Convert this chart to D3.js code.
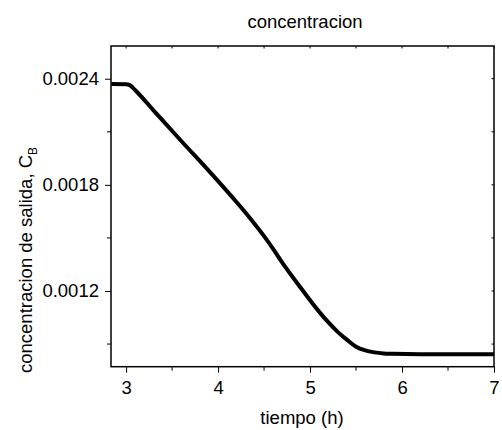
<!DOCTYPE html>
<html>
<head>
<meta charset="utf-8">
<script src="https://cdn.jsdelivr.net/npm/d3@7"></script>
<style>
  body { margin: 0; background: #fff; }
  text { font-family: "Liberation Sans", Arial, sans-serif; fill: #000; }
</style>
</head>
<body>
<div id="chart"></div>
<script>
// data
var tiempo = [2.84, 3.0, 3.04, 3.1, 3.3, 3.6, 3.9, 4.2, 4.35, 4.5, 4.6, 4.7, 4.9, 5.1, 5.2, 5.3, 5.4, 5.5, 5.6, 5.7, 5.8, 5.9, 6.2, 7.0];
var concB  = [0.00237, 0.002369, 0.002364, 0.002335, 0.00222, 0.002048, 0.001879, 0.001703, 0.00161, 0.00151, 0.001437,
              0.001359, 0.001217, 0.001082, 0.001022, 0.000969, 0.000925, 0.000885, 0.000864, 0.000853, 0.000847,
              0.000845, 0.000843, 0.000843];
var xTicks = [3, 4, 5, 6, 7];
var xMinor = [3.5, 4.5, 5.5, 6.5];
var yTicks = [0.0012, 0.0018, 0.0024];
var yMinor = [0.0009, 0.0015, 0.0021];

var width = 502, height = 430,
    margin = {top: 46, right: 8, bottom: 63.3, left: 111};

var svg = d3.select('#chart').append('svg')
  .attr('width', width)
  .attr('height', height);

var xScale = d3.scaleLinear().domain([2.836, 7]).range([margin.left, width - margin.right]);
var yScale = d3.scaleLinear().domain([0.000772, 0.002585]).range([height - margin.bottom, margin.top]);

var fs = 18.5;

// bottom axis
var xAxis = d3.axisBottom(xScale).tickValues(xTicks).tickFormat(d3.format('d')).tickSize(6).tickPadding(8).tickSizeOuter(0);
var gx = svg.append('g').attr('transform', `translate(0,${yScale.range()[0]})`).call(xAxis);
gx.append('g').selectAll('line').data(xMinor).enter().append('line')
  .attr('x1', d => xScale(d)).attr('x2', d => xScale(d)).attr('y1', 0).attr('y2', 4)
  .attr('stroke', '#000');

// left axis
var yAxis = d3.axisLeft(yScale).tickValues(yTicks).tickFormat(d3.format('.4f')).tickSize(6).tickPadding(6).tickSizeOuter(0);
var gy = svg.append('g').attr('transform', `translate(${margin.left},0)`).call(yAxis);
gy.append('g').selectAll('line').data(yMinor).enter().append('line')
  .attr('y1', d => yScale(d)).attr('y2', d => yScale(d)).attr('x1', 0).attr('x2', -4)
  .attr('stroke', '#000');

[gx, gy].forEach(g => {
  g.selectAll('text').style('font-size', fs + 'px').style('font-family', '"Liberation Sans", Arial, sans-serif').attr('fill', '#000');
  g.select('.domain').remove();
});

// top and right ticks (small, inside)
var topTicks = svg.append('g');
topTicks.selectAll('line').data(xTicks.concat(xMinor)).enter().append('line')
  .attr('x1', d => xScale(d)).attr('x2', d => xScale(d))
  .attr('y1', margin.top).attr('y2', margin.top + 2.5)
  .attr('stroke', '#000');
var rightTicks = svg.append('g');
rightTicks.selectAll('line').data(yTicks.concat(yMinor)).enter().append('line')
  .attr('y1', d => yScale(d)).attr('y2', d => yScale(d))
  .attr('x1', width - margin.right).attr('x2', width - margin.right - 2.5)
  .attr('stroke', '#000');

// frame
svg.append('rect')
  .attr('x', margin.left).attr('y', margin.top)
  .attr('width', xScale.range()[1] - margin.left)
  .attr('height', yScale.range()[0] - margin.top)
  .attr('fill', 'none').attr('stroke', '#000').attr('stroke-width', 1.5);

// curve
var pts = tiempo.map((t, i) => [t, concB[i]]);
var line = d3.line().x(d => xScale(d[0])).y(d => yScale(d[1])).curve(d3.curveMonotoneX);
svg.append('path').datum(pts)
  .attr('d', line)
  .attr('fill', 'none').attr('stroke', '#000').attr('stroke-width', 4)
  .attr('stroke-linejoin', 'round');

// title
svg.append('text')
  .attr('x', 305).attr('y', 28)
  .attr('text-anchor', 'middle')
  .style('font-size', fs + 'px')
  .text('concentracion');

// x label
svg.append('text')
  .attr('x', 302).attr('y', 424)
  .attr('text-anchor', 'middle')
  .style('font-size', fs + 'px')
  .text('tiempo (h)');

// y label
var yl = svg.append('text')
  .attr('transform', 'translate(32,373) rotate(-90)')
  .attr('x', 0).attr('y', 0)
  .attr('text-anchor', 'start')
  .style('font-size', fs + 'px');
yl.append('tspan').text('concentracion de salida, C');
yl.append('tspan').attr('dy', 5).style('font-size', '12px').text('B');
</script>
</body>
</html>
